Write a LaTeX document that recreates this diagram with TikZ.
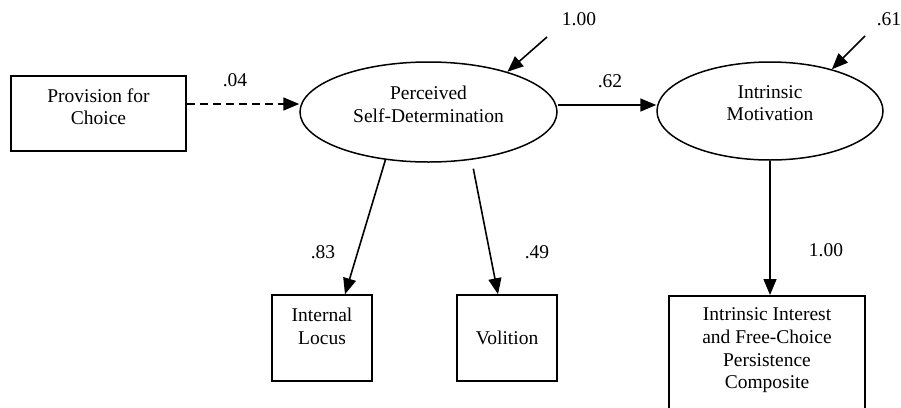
\documentclass[tikz,border=0pt]{standalone}
\usepackage{fontspec}
\setmainfont{Liberation Serif}
\usetikzlibrary{arrows.meta,shapes.geometric}

\tikzset{
  box/.style={draw, line width=1.5pt, rectangle, align=center, inner sep=0pt},
  latent/.style={draw, line width=1.5pt, ellipse, align=center, inner sep=0pt},
  path/.style={line width=1.6pt, -{Triangle[length=16pt,width=13pt]}},
  coef/.style={inner sep=0pt},
}

\begin{document}
\begin{tikzpicture}[x=1pt,y=-1pt,font=\fontsize{19.5}{22.7}\selectfont]
\useasboundingbox (0,0) rectangle (901,407);

\node[box, minimum width=175pt, minimum height=75pt, text depth=14pt] (choice) at (98.5,113.5) {Provision for\\Choice};
\node[latent, minimum width=257pt, minimum height=100pt, text depth=15pt] (psd) at (428.5,112) {Perceived\\Self-Determination};
\node[latent, minimum width=226pt, minimum height=98pt, text depth=16pt] (im) at (770,111) {Intrinsic\\Motivation};
\node[box, minimum width=100pt, minimum height=86pt, text depth=23pt] (locus) at (322,338) {Internal\\Locus};
\node[box, minimum width=100pt, minimum height=86pt] (volition) at (507,338) {Volition};
\node[box, minimum width=196pt, minimum height=135pt, text depth=30pt, anchor=north] (comp) at (767,295) {Intrinsic Interest\\and Free-Choice\\Persistence\\Composite};

\coordinate (psdres) at (547,37);
\coordinate (imres) at (865,36);

\draw[path, dash pattern=on 8pt off 5pt] ([yshift=9.5pt]choice.east) -- ([yshift=9.5pt]choice.east -| psd.west);
\draw[path] ([yshift=7pt]psd.east) -- ([yshift=7pt]psd.east -| im.west);
\draw[path] (psdres) -- (psd.27);
\draw[path] (imres) -- (im.34);
\draw[path] (psd.228) -- ([xshift=23pt]locus.north);
\draw[path, shorten <=9pt] (psd.312) -- ([xshift=-9pt]volition.north);
\draw[path] (im.south) -- (im.south |- comp.north);

\node[coef] (c04) at (235,80) {.04};
\node[coef] (c62) at (610,81) {.62};
\node[coef] (cpsd) at (579,19) {1.00};
\node[coef] (cim) at (889,19) {.61};
\node[coef] (c83) at (323,252) {.83};
\node[coef] (c49) at (537,252) {.49};
\node[coef] (ccomp) at (826,250) {1.00};
\end{tikzpicture}
\end{document}
